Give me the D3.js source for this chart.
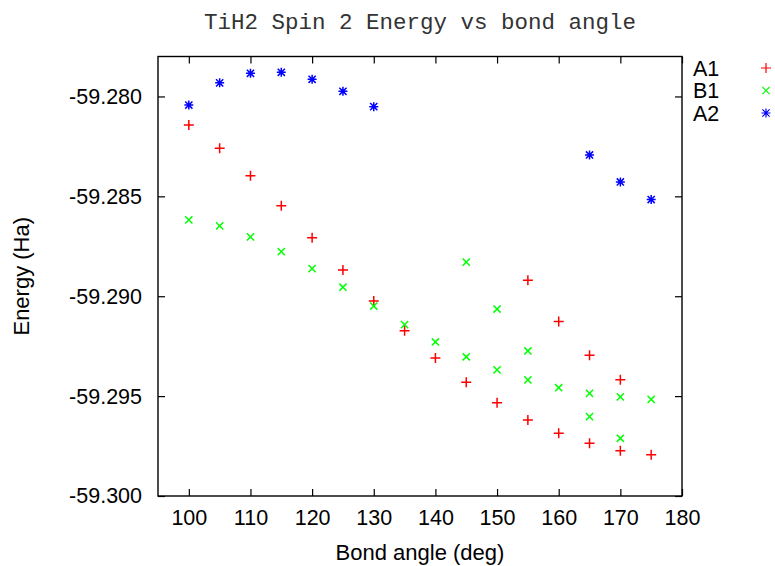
<!DOCTYPE html>
<html>
<head>
<meta charset="utf-8">
<script src="https://cdn.jsdelivr.net/npm/d3@7"></script>
<style>
  body { margin: 0; background: #fff; }
</style>
</head>
<body>
<div id="canvas"></div>
<script>
// bond angle (deg), energy (Ha)
const a1 = [
  [100, -59.28143], [105, -59.28259], [110, -59.28397], [115, -59.28547],
  [120, -59.28707], [125, -59.28869], [130, -59.29024], [135, -59.29173],
  [140, -59.29309], [145, -59.29431], [150, -59.29533], [155, -59.29620],
  [160, -59.29686], [165, -59.29736], [170, -59.29773], [175, -59.29793],
  [155, -59.28920], [160, -59.29127], [165, -59.29296], [170, -59.29418]
]
const b1 = [
  [100, -59.28618], [105, -59.28648], [110, -59.28703], [115, -59.28777],
  [120, -59.28862], [125, -59.28955], [130, -59.29049], [135, -59.29142],
  [140, -59.29229], [145, -59.29303], [150, -59.29369], [155, -59.29419],
  [160, -59.29458], [165, -59.29486], [170, -59.29504], [175, -59.29516],
  [145, -59.28829], [150, -59.29064], [155, -59.29274], [165, -59.29603],
  [170, -59.29711]
]
const a2 = [
  [100, -59.28043], [105, -59.27932], [110, -59.27884], [115, -59.27879],
  [120, -59.27914], [125, -59.27974], [130, -59.28051],
  [165, -59.28293], [170, -59.28428], [175, -59.28516]
]
const seriesNames = ['A1', 'B1', 'A2']
const xTicks = [100, 110, 120, 130, 140, 150, 160, 170, 180]
const yTicks = [-59.300, -59.295, -59.290, -59.285, -59.280]

const SANS = '"Liberation Sans", Arial, sans-serif'
const MONO = '"Liberation Mono", "DejaVu Sans Mono", monospace'

const W = 775, H = 566
const margin = {top: 56.5, right: 93, bottom: 70, left: 158}
const width = W - margin.left - margin.right
const height = H - margin.top - margin.bottom

const series = [
  {name: seriesNames[0], data: a1, color: '#ff0000', shape: 'plus'},
  {name: seriesNames[1], data: b1, color: '#00ff00', shape: 'cross'},
  {name: seriesNames[2], data: a2, color: '#0000ff', shape: 'star'}
]

const svg = d3.select('#canvas')
  .append('svg')
  .attr('width', W)
  .attr('height', H)

const g = svg.append('g')
  .attr('transform', 'translate(' + margin.left + ',' + margin.top + ')')

const x = d3.scaleLinear().domain([95, 180]).range([0, width])
const y = d3.scaleLinear().domain([-59.300, -59.278]).range([height, 0])

function markerPath (shape, r) {
  const p = d3.path()
  if (shape === 'plus' || shape === 'star') {
    const s = shape === 'star' ? r : r + 0.5
    p.moveTo(-s, 0); p.lineTo(s, 0)
    p.moveTo(0, -s); p.lineTo(0, s)
  }
  if (shape === 'cross' || shape === 'star') {
    const s = r * 0.8
    p.moveTo(-s, -s); p.lineTo(s, s)
    p.moveTo(-s, s); p.lineTo(s, -s)
  }
  return p.toString()
}

// plain hyphen like gnuplot, not the unicode minus
const fmtY = d => d.toFixed(3)

// axes (ticks inward, mirrored on top/right)
const tickLen = 7
const xb = g.append('g')
  .attr('transform', 'translate(0,' + height + ')')
  .call(d3.axisBottom(x).tickValues(xTicks).tickSizeInner(-tickLen).tickSizeOuter(0).tickPadding(14))
const xt = g.append('g')
  .call(d3.axisTop(x).tickValues(xTicks).tickSizeInner(-tickLen).tickSizeOuter(0).tickFormat(''))
const yl = g.append('g')
  .call(d3.axisLeft(y).tickValues(yTicks).tickSizeInner(-tickLen).tickSizeOuter(0).tickPadding(16).tickFormat(fmtY))
const yr = g.append('g')
  .attr('transform', 'translate(' + width + ',0)')
  .call(d3.axisRight(y).tickValues(yTicks).tickSizeInner(-tickLen).tickSizeOuter(0).tickFormat(''))

;[xb, xt, yl, yr].forEach(a => {
  a.select('.domain').remove()
  a.selectAll('line').attr('stroke', '#000').attr('stroke-width', 1.2)
  a.selectAll('text')
    .attr('font-size', '21.5px')
    .attr('font-family', SANS)
    .attr('fill', '#000')
})
xb.selectAll('text').attr('dy', '0.71em')

g.append('rect')
  .attr('width', width)
  .attr('height', height)
  .attr('fill', 'none')
  .attr('stroke', '#000')
  .attr('stroke-width', 1.4)

// points
series.forEach(s => {
  g.append('g')
    .selectAll('path')
    .data(s.data)
    .enter()
    .append('path')
    .attr('transform', d => 'translate(' + x(d[0]) + ',' + y(d[1]) + ')')
    .attr('d', markerPath(s.shape, 4.5))
    .attr('fill', 'none')
    .attr('stroke', s.color)
    .attr('stroke-width', 1.5)
})

// title and axis labels
svg.append('text')
  .text('TiH2 Spin 2 Energy vs bond angle')
  .attr('x', margin.left + width / 2)
  .attr('y', 29)
  .attr('text-anchor', 'middle')
  .attr('font-family', MONO)
  .attr('font-size', '22.5px')
  .attr('fill', '#333')

svg.append('text')
  .text('Bond angle (deg)')
  .attr('x', margin.left + width / 2)
  .attr('y', 560)
  .attr('text-anchor', 'middle')
  .attr('font-family', SANS)
  .attr('font-size', '22px')

svg.append('text')
  .text('Energy (Ha)')
  .attr('transform', 'translate(29,' + (margin.top + height / 2) + ') rotate(-90)')
  .attr('text-anchor', 'middle')
  .attr('font-family', SANS)
  .attr('font-size', '22px')

// legend
const legend = svg.append('g')
series.forEach((s, i) => {
  const ly = 68 + i * 22.5
  legend.append('text')
    .text(s.name)
    .attr('x', 693)
    .attr('y', ly)
    .attr('dy', '0.36em')
    .attr('font-family', SANS)
    .attr('font-size', '21.5px')
  legend.append('path')
    .attr('transform', 'translate(766,' + ly + ')')
    .attr('d', markerPath(s.shape, 4.5))
    .attr('fill', 'none')
    .attr('stroke', s.color)
    .attr('stroke-width', 1.2)
})
</script>
</body>
</html>
